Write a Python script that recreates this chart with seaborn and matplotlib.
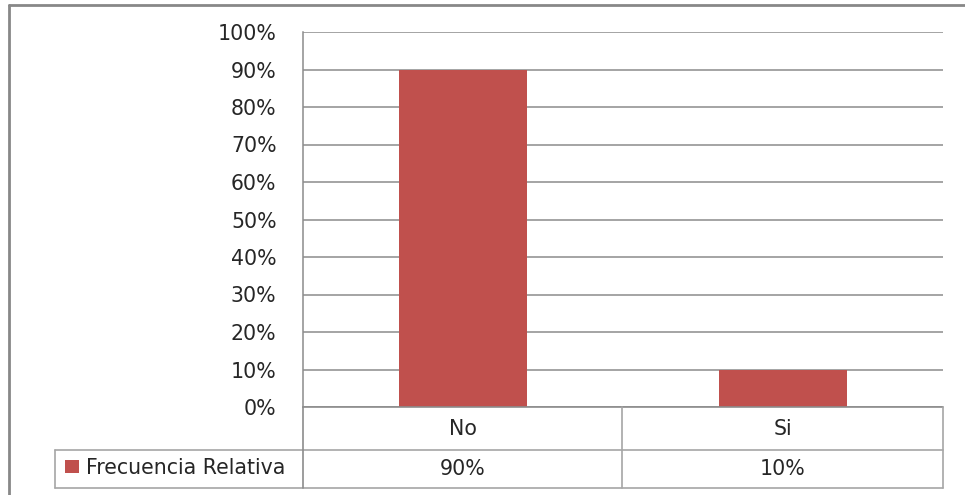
import matplotlib
matplotlib.use("Agg")
import matplotlib.pyplot as plt
import seaborn as sns
import pandas as pd
from matplotlib.lines import Line2D
from matplotlib.patches import Rectangle

categories = ["No", "Si"]
values = [0.90, 0.10]
value_labels = ["90%", "10%"]
series_name = "Frecuencia Relativa"
yticks = [0, 0.1, 0.2, 0.3, 0.4, 0.5, 0.6, 0.7, 0.8, 0.9, 1.0]
ytick_labels = ["0%", "10%", "20%", "30%", "40%", "50%", "60%", "70%", "80%", "90%", "100%"]

sns.set_theme(style="white")
plt.rcParams['font.family'] = ['DejaVu Sans']

W, H = 965, 495
FS = 14.8
TXT = "#262626"
fig = plt.figure(figsize=(W / 100, H / 100), dpi=100)

def fx(px):
    return px / W

def fy(py):
    return 1 - py / H

ax = fig.add_axes([fx(303), fy(407), fx(943) - fx(303), fy(32) - fy(407)])
df = pd.DataFrame({"cat": categories, "val": values})
bar_color = "#C0504D"
sns.barplot(data=df, x="cat", y="val", color=bar_color, width=0.4, ax=ax,
            saturation=1, zorder=3, linewidth=0, edgecolor="none")
ax.set_xlim(-0.5, 1.5)
ax.set_ylim(0, 1.0)
ax.set_yticks(yticks)
ax.set_yticklabels(ytick_labels, fontsize=FS, color=TXT)
ax.tick_params(axis="y", length=0, pad=19)
ax.set_xticks([])
ax.set_xlabel("")
ax.set_ylabel("")
grid_c = "#8C8C8C"
ax.yaxis.grid(True, color=grid_c, linewidth=1.1, zorder=0)
ax.set_axisbelow(True)
for s in ["top", "right", "bottom"]:
    ax.spines[s].set_visible(False)
ax.spines["left"].set_color(grid_c)
ax.spines["left"].set_linewidth(1.1)

table_c = "#A6A6A6"
def hline(y, x0, x1, c=table_c, lw=1.2):
    fig.add_artist(Line2D([fx(x0), fx(x1)], [fy(y), fy(y)], color=c, linewidth=lw))

def vline(x, y0, y1, c=table_c, lw=1.2):
    fig.add_artist(Line2D([fx(x), fx(x)], [fy(y0), fy(y1)], color=c, linewidth=lw))

# data table
hline(407, 303, 943, c=grid_c)
hline(450, 55, 943)
hline(488, 55, 943)
vline(303, 407, 488, c=grid_c)
vline(622, 407, 488)
vline(943, 407, 488)
vline(55, 450, 488)

centers = [463, 783]
for cx, cat, lab in zip(centers, categories, value_labels):
    fig.text(fx(cx), fy(429), cat, ha="center", va="center", fontsize=FS, color=TXT)
    fig.text(fx(cx), fy(469), lab, ha="center", va="center", fontsize=FS, color=TXT)

fig.add_artist(Rectangle((fx(65), fy(473)), fx(79) - fx(65), fy(460) - fy(473),
                         facecolor=bar_color, edgecolor="none", transform=fig.transFigure))
fig.text(fx(86), fy(468), series_name, ha="left", va="center", fontsize=FS, color=TXT)

# outer frame
frame_c = "#888888"
hline(5, 9, 965, c=frame_c, lw=2)
vline(9, 5, 495, c=frame_c, lw=2)

fig.savefig("out.png", dpi=100)
